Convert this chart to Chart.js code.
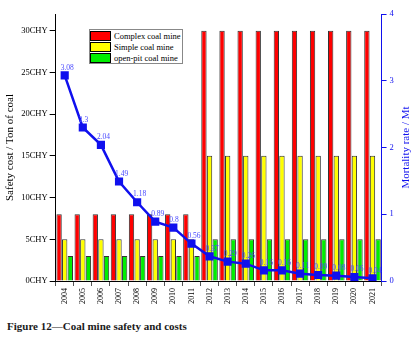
<!DOCTYPE html>
<html>
<head>
<meta charset="utf-8">
<script src="https://cdn.jsdelivr.net/npm/chart.js@4"></script>
<style>
  body { margin: 0; background: #fff; }
  #wrap { position: relative; width: 419px; height: 343px; }
  #myChart { position: absolute; left: 0; top: 0; }
  #legend { position: absolute; left: 89px; top: 29px; width: 92px; height: 33px;
            border: 1px solid #888; background: #fff; font-family: "Liberation Serif", serif;
            font-size: 8.5px; color: #000; white-space: nowrap; }
  .item { height: 11px; display: flex; align-items: center; }
  .box { width: 19px; height: 8px; border: 1px solid #000; margin-right: 3px; flex: none; }
  #caption { position: absolute; left: 7px; top: 320px; font-family: "Liberation Serif", serif;
             font-weight: bold; font-size: 11px; color: #1a1a1a; }
</style>
</head>
<body>
<div id="wrap">
  <canvas id="myChart" width="419" height="310"></canvas>
  <div id="legend"></div>
  <div id="caption">Figure 12—Coal mine safety and costs</div>
</div>
<script>
const years = ['2004','2005','2006','2007','2008','2009','2010','2011','2012',
               '2013','2014','2015','2016','2017','2018','2019','2020','2021'];
const complexCost = [8,8,8,8,8,8,8,8,30,30,30,30,30,30,30,30,30,30];
const simpleCost  = [5,5,5,5,5,5,5,5,15,15,15,15,15,15,15,15,15,15];
const openPitCost = [3,3,3,3,3,3,3,3,5,5,5,5,5,5,5,5,5,5];
const mortality = [3.08,2.3,2.04,1.49,1.18,0.89,0.8,0.56,0.37,
                   0.29,0.26,0.16,0.16,0.11,0.09,0.08,0.06,0.04];
const costTicks = [0,5,10,15,20,25,30];
const rateTicks = [0,1,2,3,4];

const barNames = ['Complex coal mine','Simple coal mine','open-pit coal mine'];
const barColors = ['#ff0000','#ffff00','#00ee00'];
const blue = '#1010ee';
const labelBlue = '#4a4aff';
const serif = '"Liberation Serif", serif';

// legend
const legend = document.getElementById('legend');
barNames.forEach((name, i) => {
  const row = document.createElement('div');
  row.className = 'item';
  row.innerHTML = '<span class="box" style="background:' + barColors[i] + '"></span>' + name;
  legend.appendChild(row);
});

// value labels for the line + right axis title (reads bottom to top)
const extras = {
  id: 'extras',
  afterDatasetsDraw(chart) {
    const meta = chart.getDatasetMeta(3);
    const ctx = chart.ctx;
    ctx.save();
    ctx.font = '7.5px ' + serif;
    ctx.fillStyle = labelBlue;
    ctx.textAlign = 'left';
    ctx.textBaseline = 'bottom';
    meta.data.forEach((pt, i) => {
      ctx.fillText(String(mortality[i]), pt.x - 4, pt.y - 4);
    });
    ctx.restore();
  },
  afterDraw(chart) {
    const ctx = chart.ctx;
    const area = chart.chartArea;
    ctx.save();
    ctx.translate(chart.scales.y1.right - 6, (area.top + area.bottom) / 2);
    ctx.rotate(-Math.PI / 2);
    ctx.font = '11px ' + serif;
    ctx.fillStyle = blue;
    ctx.textAlign = 'center';
    ctx.textBaseline = 'middle';
    ctx.fillText('Mortality rate / Mt', 0, 0);
    ctx.restore();
  }
};

const ctx = document.getElementById('myChart').getContext('2d');
new Chart(ctx, {
  data: {
    labels: years,
    datasets: [
      { type: 'bar', label: barNames[0], data: complexCost, backgroundColor: barColors[0],
        borderColor: '#333', borderWidth: 1, yAxisID: 'y', order: 2 },
      { type: 'bar', label: barNames[1], data: simpleCost, backgroundColor: barColors[1],
        borderColor: '#333', borderWidth: 1, yAxisID: 'y', order: 2 },
      { type: 'bar', label: barNames[2], data: openPitCost, backgroundColor: barColors[2],
        borderColor: '#333', borderWidth: 1, yAxisID: 'y', order: 2 },
      { type: 'line', label: 'Mortality rate', data: mortality, borderColor: blue,
        backgroundColor: blue, borderWidth: 2.5, pointStyle: 'rect', pointRadius: 4,
        yAxisID: 'y1', order: 1 }
    ]
  },
  options: {
    responsive: false,
    animation: false,
    layout: { padding: { left: 4, right: 7, top: 14, bottom: 4 } },
    datasets: { bar: { barPercentage: 0.95, categoryPercentage: 0.93 } },
    plugins: { legend: { display: false }, tooltip: { enabled: false } },
    scales: {
      x: {
        grid: { drawOnChartArea: false, drawTicks: true, tickLength: 5, color: '#555' },
        border: { display: true, color: '#000', width: 1 },
        ticks: { minRotation: 90, maxRotation: 90, color: '#000', padding: 2,
                 font: { family: serif, size: 8 } }
      },
      y: {
        position: 'left', min: 0, max: 32,
        afterBuildTicks: axis => { axis.ticks = costTicks.map(v => ({ value: v })); },
        grid: { drawOnChartArea: false, drawTicks: true, tickLength: 6, color: '#000' },
        border: { display: true, color: '#000', width: 1 },
        ticks: { color: '#000', padding: 2, font: { family: serif, size: 8.5 },
                 callback: v => v + 'CHY' },
        title: { display: true, text: 'Safety cost / Ton of coal', color: '#000',
                 font: { family: serif, size: 11 }, padding: { top: 0, bottom: 2 } }
      },
      y1: {
        position: 'right', min: 0, max: 4,
        afterBuildTicks: axis => { axis.ticks = rateTicks.map(v => ({ value: v })); },
        grid: { drawOnChartArea: false, drawTicks: true, tickLength: 5, color: blue },
        border: { display: true, color: blue, width: 1 },
        ticks: { color: blue, padding: 3, font: { family: serif, size: 8.5 } },
        title: { display: true, text: ' ', color: blue,
                 font: { family: serif, size: 11 }, padding: { top: 2, bottom: 0 } }
      }
    }
  },
  plugins: [extras]
});
</script>
</body>
</html>
